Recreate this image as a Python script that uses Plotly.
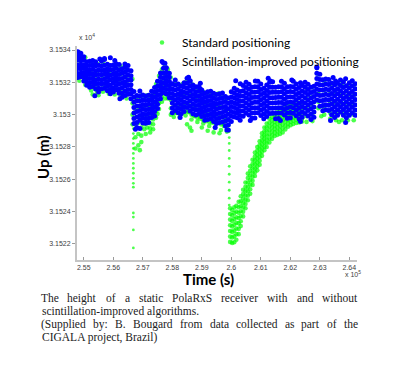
import plotly.graph_objects as go

# ---------------- data ----------------
# time in seconds, height in metres
scint_time_s = [254800, 254900, 255000, 255100, 255200, 255300, 255400, 255500, 255600, 255700,
                255800, 255900, 256000, 256100, 256200, 256300, 256400, 256500, 256600, 256700,
                256800, 256900, 257000, 257100, 257200, 257300, 257400, 257500, 257600, 257700,
                257800, 257900, 258000, 258100, 258200, 258300, 258400, 258500, 258600, 258700,
                258800, 258900, 259000, 259100, 259200, 259300, 259400, 259500, 259600, 259700,
                259800, 259900, 260000, 260100, 260200, 260300, 260400, 260500, 260600, 260700,
                260800, 260900, 261000, 261100, 261200, 261300, 261400, 261500, 261600, 261700,
                261800, 261900, 262000, 262100, 262200, 262300, 262400, 262500, 262600, 262700,
                262800, 262900, 263000, 263100, 263200, 263300, 263400, 263500, 263600, 263700,
                263800, 263900, 264000, 264100, 264200]
scint_up_m = [
    [31533.90, 31533.62, 31533.38, 31533.08, 31532.85, 31532.55, 31532.30],
    [31533.80, 31533.57, 31533.34, 31533.06, 31532.84, 31532.57, 31532.34],
    [31533.58, 31533.36, 31533.08, 31532.86, 31532.59, 31532.35, 31532.08],
    [31533.28, 31533.03, 31532.77, 31532.52, 31532.28, 31532.02, 31531.82],
    [31533.30, 31533.05, 31532.76, 31532.52, 31532.24, 31531.98, 31531.70],
    [31533.35, 31533.07, 31532.81, 31532.53, 31532.26, 31532.00, 31531.74],
    [31533.28, 31533.02, 31532.72, 31532.46, 31532.15, 31531.88, 31531.58],
    [31533.06, 31532.78, 31532.48, 31532.21, 31531.93, 31531.64, 31531.40],
    [31533.32, 31533.01, 31532.74, 31532.47, 31532.16, 31531.90, 31531.60],
    [31533.42, 31533.06, 31532.77, 31532.50, 31532.20, 31531.93, 31531.64],
    [31533.12, 31532.84, 31532.57, 31532.31, 31532.03, 31531.76, 31531.48],
    [31533.04, 31532.76, 31532.44, 31532.16, 31531.84, 31531.56, 31531.30],
    [31533.08, 31532.80, 31532.53, 31532.24, 31531.97, 31531.66, 31531.40],
    [31533.15, 31532.88, 31532.60, 31532.34, 31532.06, 31531.80, 31531.53],
    [31533.10, 31532.78, 31532.48, 31532.19, 31531.91, 31531.60, 31531.32],
    [31532.84, 31532.56, 31532.24, 31531.95, 31531.66, 31531.34, 31531.08],
    [31532.92, 31532.62, 31532.35, 31532.04, 31531.77, 31531.46, 31531.18],
    [31533.05, 31532.75, 31532.45, 31532.14, 31531.85, 31531.55, 31531.26],
    [31532.72, 31532.41, 31532.14, 31531.85, 31531.55, 31531.29, 31530.98],
    [31531.44, 31531.10, 31530.76, 31530.44, 31530.10, 31529.76, 31529.45],
    [31531.18, 31530.86, 31530.53, 31530.19, 31529.86, 31529.52, 31529.20],
    [31531.46, 31531.15, 31530.86, 31530.55, 31530.25, 31529.95, 31529.65],
    [31531.22, 31530.92, 31530.63, 31530.35, 31530.06, 31529.78, 31529.48],
    [31531.15, 31530.88, 31530.58, 31530.31, 31530.01, 31529.74, 31529.46],
    [31531.20, 31530.90, 31530.64, 31530.33, 31530.07, 31529.77, 31529.52],
    [31531.45, 31531.17, 31530.90, 31530.63, 31530.36, 31530.10, 31529.83],
    [31531.68, 31531.39, 31531.08, 31530.79, 31530.49, 31530.20, 31529.92],
    [31532.07, 31531.78, 31531.50, 31531.22, 31530.93, 31530.64, 31530.38],
    [31532.58, 31532.32, 31532.04, 31531.78, 31531.52, 31531.25, 31530.98],
    [31533.20, 31532.88, 31532.57, 31532.27, 31531.97, 31531.66, 31531.37],
    [31532.90, 31532.62, 31532.36, 31532.09, 31531.83, 31531.56, 31531.28],
    [31532.56, 31532.31, 31532.05, 31531.81, 31531.56, 31531.31, 31531.05],
    [31531.92, 31531.60, 31531.31, 31531.01, 31530.72, 31530.41, 31530.12],
    [31532.14, 31531.83, 31531.52, 31531.20, 31530.89, 31530.57, 31530.26],
    [31531.90, 31531.60, 31531.29, 31531.00, 31530.70, 31530.39, 31530.12],
    [31531.77, 31531.48, 31531.20, 31530.92, 31530.63, 31530.35, 31530.05],
    [31531.98, 31531.69, 31531.38, 31531.09, 31530.79, 31530.49, 31530.20],
    [31532.25, 31531.94, 31531.63, 31531.34, 31531.04, 31530.74, 31530.44],
    [31532.10, 31531.78, 31531.46, 31531.15, 31530.84, 31530.52, 31530.22],
    [31531.84, 31531.55, 31531.25, 31530.95, 31530.65, 31530.35, 31530.05],
    [31531.72, 31531.42, 31531.14, 31530.86, 31530.57, 31530.28, 31529.98],
    [31531.74, 31531.45, 31531.16, 31530.88, 31530.60, 31530.32, 31530.04],
    [31531.52, 31531.24, 31530.96, 31530.70, 31530.43, 31530.15, 31529.88],
    [31531.34, 31531.06, 31530.77, 31530.49, 31530.21, 31529.93, 31529.65],
    [31531.42, 31531.12, 31530.84, 31530.56, 31530.27, 31529.98, 31529.70],
    [31531.45, 31531.16, 31530.88, 31530.60, 31530.32, 31530.03, 31529.75],
    [31531.32, 31531.03, 31530.74, 31530.46, 31530.17, 31529.89, 31529.58],
    [31531.24, 31530.93, 31530.64, 31530.34, 31530.04, 31529.75, 31529.45],
    [31531.30, 31531.00, 31530.70, 31530.41, 31530.10, 31529.80, 31529.52],
    [31531.34, 31531.04, 31530.75, 31530.44, 31530.14, 31529.85, 31529.55],
    [31531.12, 31530.81, 31530.51, 31530.21, 31529.91, 31529.60, 31529.30],
    [31531.03, 31530.70, 31530.37, 31530.03, 31529.70, 31529.37, 31529.05],
    [31531.42, 31531.10, 31530.80, 31530.50, 31530.19, 31529.90, 31529.58],
    [31531.64, 31531.34, 31531.04, 31530.74, 31530.44, 31530.14, 31529.85],
    [31531.52, 31531.22, 31530.94, 31530.66, 31530.37, 31530.08, 31529.80],
    [31531.43, 31531.14, 31530.83, 31530.54, 31530.24, 31529.94, 31529.65],
    [31531.80, 31531.48, 31531.16, 31530.85, 31530.53, 31530.22, 31529.90],
    [31532.00, 31531.68, 31531.36, 31531.04, 31530.72, 31530.40, 31530.08],
    [31531.88, 31531.57, 31531.25, 31530.94, 31530.62, 31530.30, 31529.98],
    [31531.70, 31531.38, 31531.06, 31530.74, 31530.42, 31530.10, 31529.78],
    [31531.72, 31531.39, 31531.08, 31530.76, 31530.43, 31530.11, 31529.79],
    [31532.06, 31531.73, 31531.41, 31531.08, 31530.76, 31530.43, 31530.11],
    [31531.89, 31531.56, 31531.24, 31530.92, 31530.60, 31530.27, 31529.95],
    [31531.64, 31531.32, 31531.01, 31530.69, 31530.38, 31530.06, 31529.75],
    [31531.83, 31531.50, 31531.18, 31530.85, 31530.53, 31530.20, 31529.88],
    [31532.01, 31531.69, 31531.37, 31531.04, 31530.72, 31530.40, 31530.07],
    [31532.04, 31531.70, 31531.38, 31531.05, 31530.72, 31530.40, 31530.08],
    [31531.70, 31531.38, 31531.06, 31530.73, 31530.41, 31530.08, 31529.75],
    [31531.72, 31531.39, 31531.07, 31530.75, 31530.43, 31530.10, 31529.76],
    [31532.06, 31531.73, 31531.41, 31531.08, 31530.75, 31530.43, 31530.10],
    [31531.94, 31531.61, 31531.29, 31530.96, 31530.64, 31530.32, 31529.98],
    [31531.72, 31531.40, 31531.07, 31530.75, 31530.42, 31530.10, 31529.77],
    [31531.75, 31531.43, 31531.11, 31530.79, 31530.47, 31530.14, 31529.81],
    [31532.06, 31531.73, 31531.40, 31531.08, 31530.75, 31530.42, 31530.09],
    [31531.89, 31531.57, 31531.24, 31530.92, 31530.59, 31530.27, 31529.93],
    [31531.68, 31531.36, 31531.04, 31530.71, 31530.39, 31530.06, 31529.73],
    [31531.80, 31531.47, 31531.15, 31530.82, 31530.50, 31530.17, 31529.84],
    [31532.01, 31531.69, 31531.37, 31531.04, 31530.72, 31530.39, 31530.07],
    [31531.88, 31531.56, 31531.24, 31530.91, 31530.59, 31530.26, 31529.92],
    [31531.70, 31531.37, 31531.03, 31530.70, 31530.37, 31530.03, 31529.70],
    [31531.76, 31531.44, 31531.12, 31530.80, 31530.48, 31530.16, 31529.84],
    [31532.90, 31532.56, 31532.23, 31531.90, 31531.57, 31531.24, 31530.90],
    [31532.50, 31532.18, 31531.85, 31531.52, 31531.18, 31530.86, 31530.52],
    [31532.16, 31531.84, 31531.52, 31531.20, 31530.88, 31530.56, 31530.24],
    [31532.20, 31531.89, 31531.57, 31531.26, 31530.94, 31530.62, 31530.30],
    [31532.18, 31531.86, 31531.54, 31531.22, 31530.90, 31530.58, 31530.26],
    [31531.96, 31531.64, 31531.31, 31530.98, 31530.66, 31530.33, 31530.00],
    [31531.83, 31531.50, 31531.17, 31530.83, 31530.49, 31530.16, 31529.82],
    [31531.94, 31531.61, 31531.29, 31530.96, 31530.63, 31530.30, 31529.96],
    [31532.15, 31531.81, 31531.48, 31531.15, 31530.82, 31530.49, 31530.16],
    [31532.02, 31531.68, 31531.34, 31531.00, 31530.65, 31530.32, 31529.96],
    [31531.79, 31531.46, 31531.13, 31530.80, 31530.46, 31530.13, 31529.80],
    [31531.98, 31531.65, 31531.31, 31530.97, 31530.64, 31530.30, 31529.96],
    [31532.10, 31531.77, 31531.44, 31531.11, 31530.78, 31530.45, 31530.12],
    [31531.92, 31531.60, 31531.27, 31530.94, 31530.61, 31530.29, 31529.96],
]
# stray fixes just outside the main band
scint_extra_time_s = [255700, 255900, 256050, 257750, 258550, 262900, 259850, 256750,
                      260150, 261250, 262050, 263450, 258950,
                      255544, 256394, 258604, 258944, 260304, 260814, 261324, 262344, 263534,
                      263874, 255374, 256224, 256904, 258264, 259454, 260644, 261664, 262344,
                      263364, 263874]
scint_extra_up_m = [31533.48, 31533.52, 31533.35, 31533.18, 31532.32, 31532.95, 31529.05,
                    31529.10, 31532.10, 31532.25, 31532.15, 31532.30, 31531.95,
                    31533.45, 31533.14, 31532.09, 31531.60, 31531.91, 31532.09, 31532.09,
                    31531.97, 31532.09, 31532.22, 31531.17, 31530.98, 31529.14, 31529.82,
                    31529.20, 31529.63, 31529.63, 31529.57, 31529.63, 31529.51]

std_time_s = [254850, 255050, 255250, 255450, 255650, 255850, 256050, 256250, 256450, 256650,
              256750, 256850, 256950, 257050, 257150, 257250, 257350, 257450, 257550, 257650,
              257750, 257850, 257950, 258050, 258150, 258250, 258350, 258450, 258550, 258650,
              258750, 258850, 258950, 259050, 259150, 259250, 259350, 259450, 259550, 259650,
              259750, 259850,
              259960, 260030, 260100, 260170, 260250, 260320, 260400, 260480, 260560, 260640,
              260720, 260800, 260880, 260960, 261040, 261120, 261200, 261290, 261380, 261470,
              261560, 261650, 261740, 261830, 261920, 262010, 262100, 262200, 262300, 262400,
              262550, 262750, 262950, 263150, 263350, 263550, 263750, 263950, 264150]
std_up_m = [
    [31533.85, 31533.35, 31532.90, 31532.45, 31532.10],
    [31533.55, 31533.05, 31532.60, 31532.20, 31531.85],
    [31533.25, 31532.75, 31532.30, 31531.90, 31531.50],
    [31533.15, 31532.70, 31532.20, 31531.80, 31531.40],
    [31533.25, 31532.75, 31532.25, 31531.85, 31531.42],
    [31533.05, 31532.60, 31532.15, 31531.70, 31531.30],
    [31533.00, 31532.55, 31532.05, 31531.65, 31531.25],
    [31533.00, 31532.50, 31532.00, 31531.55, 31531.12],
    [31532.85, 31532.35, 31531.90, 31531.45, 31531.00],
    [31532.20, 31531.40, 31530.70, 31530.00, 31529.40],
    [31531.00, 31530.20, 31529.40, 31528.60, 31527.90],
    [31531.10, 31530.30, 31529.50, 31528.80, 31528.10],
    [31531.20, 31530.50, 31529.80, 31529.20, 31528.70],
    [31531.10, 31530.50, 31529.90, 31529.40, 31529.10],
    [31531.20, 31530.60, 31530.00, 31529.50, 31529.20],
    [31531.10, 31530.50, 31529.90, 31529.45, 31529.15],
    [31531.30, 31530.70, 31530.10, 31529.70, 31529.40],
    [31531.90, 31531.30, 31530.70, 31530.20, 31529.80],
    [31532.40, 31531.80, 31531.20, 31530.70, 31530.35],
    [31532.80, 31532.20, 31531.60, 31531.10, 31530.80],
    [31533.00, 31532.40, 31531.80, 31531.30, 31531.00],
    [31532.80, 31532.20, 31531.60, 31531.20, 31531.00],
    [31532.30, 31531.60, 31530.90, 31530.40, 31530.00],
    [31531.90, 31531.20, 31530.60, 31530.10, 31529.85],
    [31531.90, 31531.20, 31530.60, 31530.10, 31530.15],
    [31531.80, 31531.10, 31530.50, 31530.05, 31529.85],
    [31531.90, 31531.20, 31530.60, 31530.10, 31530.25],
    [31532.00, 31531.30, 31530.70, 31530.20, 31529.95],
    [31532.00, 31531.30, 31530.60, 31530.15, 31530.20],
    [31531.90, 31531.20, 31530.50, 31530.00, 31529.70],
    [31531.70, 31531.00, 31530.40, 31529.90, 31529.95],
    [31531.50, 31530.90, 31530.30, 31529.80, 31529.55],
    [31531.40, 31530.80, 31530.20, 31529.75, 31529.85],
    [31531.40, 31530.70, 31530.10, 31529.65, 31529.45],
    [31531.30, 31530.70, 31530.10, 31529.60, 31529.75],
    [31531.30, 31530.60, 31530.00, 31529.55, 31529.30],
    [31531.20, 31530.50, 31529.90, 31529.50, 31529.60],
    [31531.20, 31530.60, 31530.00, 31529.50, 31529.20],
    [31531.30, 31530.60, 31530.00, 31529.50, 31529.55],
    [31531.10, 31530.50, 31529.90, 31529.40, 31529.05],
    [31531.00, 31530.40, 31529.80, 31529.30, 31529.40],
    [31531.00, 31530.30, 31529.70, 31529.20, 31528.95],
    [31524.20, 31523.85, 31523.50, 31523.15, 31522.80, 31522.45, 31522.12],
    [31524.10, 31523.76, 31523.42, 31523.08, 31522.74, 31522.40, 31522.06],
    [31524.26, 31523.90, 31523.54, 31523.18, 31522.82, 31522.46, 31522.10],
    [31524.35, 31524.00, 31523.65, 31523.30, 31522.95, 31522.60, 31522.25],
    [31524.60, 31524.27, 31523.93, 31523.60, 31523.27, 31522.93, 31522.60],
    [31524.95, 31524.64, 31524.33, 31524.02, 31523.71, 31523.40, 31523.10],
    [31525.35, 31525.08, 31524.80, 31524.52, 31524.25, 31523.98, 31523.70],
    [31525.80, 31525.53, 31525.27, 31525.00, 31524.73, 31524.47, 31524.20],
    [31526.35, 31526.08, 31525.80, 31525.52, 31525.25, 31524.98, 31524.70],
    [31526.80, 31526.52, 31526.23, 31525.95, 31525.67, 31525.38, 31525.10],
    [31527.20, 31526.94, 31526.68, 31526.42, 31526.16, 31525.90, 31525.65],
    [31527.65, 31527.41, 31527.17, 31526.93, 31526.68, 31526.44, 31526.20],
    [31528.00, 31527.76, 31527.52, 31527.28, 31527.03, 31526.79, 31526.55],
    [31528.35, 31528.11, 31527.87, 31527.62, 31527.38, 31527.14, 31526.90],
    [31528.85, 31528.62, 31528.38, 31528.15, 31527.92, 31527.68, 31527.45],
    [31529.20, 31528.97, 31528.73, 31528.50, 31528.27, 31528.03, 31527.80],
    [31529.45, 31529.21, 31528.97, 31528.72, 31528.48, 31528.24, 31528.00],
    [31529.75, 31529.50, 31529.26, 31529.02, 31528.77, 31528.52, 31528.28],
    [31529.88, 31529.65, 31529.42, 31529.19, 31528.96, 31528.73, 31528.50],
    [31530.00, 31529.78, 31529.56, 31529.34, 31529.12, 31528.90, 31528.68],
    [31530.15, 31529.92, 31529.68, 31529.45, 31529.22, 31528.98, 31528.75],
    [31530.26, 31530.02, 31529.78, 31529.53, 31529.29, 31529.04, 31528.80],
    [31530.37, 31530.13, 31529.88, 31529.64, 31529.39, 31529.15, 31528.90],
    [31530.46, 31530.23, 31530.00, 31529.77, 31529.54, 31529.31, 31529.08],
    [31530.53, 31530.32, 31530.10, 31529.89, 31529.68, 31529.46, 31529.25],
    [31530.58, 31530.38, 31530.17, 31529.97, 31529.76, 31529.56, 31529.35],
    [31530.65, 31530.45, 31530.24, 31530.04, 31529.83, 31529.63, 31529.42],
    [31530.70, 31530.50, 31530.29, 31530.09, 31529.89, 31529.68, 31529.48],
    [31530.74, 31530.54, 31530.33, 31530.13, 31529.93, 31529.72, 31529.52],
    [31530.80, 31530.60, 31530.39, 31530.19, 31529.99, 31529.78, 31529.58],
    [31531.60, 31531.00, 31530.40, 31529.90, 31529.55],
    [31531.70, 31531.10, 31530.50, 31529.95, 31529.60],
    [31532.50, 31531.90, 31531.30, 31530.80, 31530.40],
    [31532.10, 31531.50, 31530.90, 31530.40, 31530.00],
    [31531.90, 31531.30, 31530.70, 31530.10, 31529.75],
    [31531.90, 31531.30, 31530.70, 31530.10, 31529.65],
    [31531.90, 31531.30, 31530.70, 31530.10, 31529.65],
    [31531.80, 31531.20, 31530.60, 31530.00, 31529.65],
    [31531.80, 31531.20, 31530.60, 31530.00, 31529.65],
]
std_extra_time_s = [256900, 256950, 257100, 257250, 257350, 257500, 258500, 258600, 258650,
                    259000, 259200, 259400, 255300, 255500, 259600, 263050, 263650]
std_extra_up_m = [31527.80, 31528.30, 31528.80, 31528.90, 31529.10, 31530.05, 31529.40,
                  31529.20, 31529.00, 31529.20, 31529.00, 31528.90, 31531.25, 31531.20,
                  31528.85, 31529.90, 31529.55]
# isolated outages: vertical trails of standard-positioning fixes
std_spike_time_s = [256680] * 18 + [259930] * 12
std_spike_up_m = [31529.45, 31529.14, 31528.83, 31528.52, 31528.22, 31527.91, 31527.60, 31527.29,
                  31526.98, 31526.68, 31526.37, 31526.06, 31525.75, 31525.51, 31523.91, 31523.66,
                  31522.86, 31521.75,
                  31529.32, 31528.95, 31528.58, 31528.22, 31527.78, 31527.29, 31526.80, 31526.31,
                  31525.82, 31525.32, 31524.83, 31524.40]

y_tick_vals = [31522, 31524, 31526, 31528, 31530, 31532, 31534]
y_tick_text = ["3.1522", "3.1524", "3.1526", "3.1528", "3.153", "3.1532", "3.1534"]
x_tick_vals = [255000, 256000, 257000, 258000, 259000, 260000, 261000, 262000, 263000, 264000]
x_tick_text = ["2.55", "2.56", "2.57", "2.58", "2.59", "2.6", "2.61", "2.62", "2.63", "2.64"]

caption_lines = [
    "The height of a static PolaRxS receiver with and without",
    "scintillation-improved algorithms.",
    "(Supplied by: B. Bougard from data collected as part of the",
    "CIGALA project, Brazil)",
]
caption_justified = [True, False, True, False]


def flatten(times, cols):
    xs, ys = [], []
    for t, col in zip(times, cols):
        for v in col:
            xs.append(t)
            ys.append(v)
    return xs, ys


std_x, std_y = flatten(std_time_s, std_up_m)
std_x += std_extra_time_s
std_y += std_extra_up_m
n_std_band = len(std_x)
std_x += std_spike_time_s
std_y += std_spike_up_m
sc_x, sc_y = flatten(scint_time_s, scint_up_m)
sc_x += scint_extra_time_s
sc_y += scint_extra_up_m

# marker sizes (style): band dots vs isolated outage dots
std_sizes = [4.6] * n_std_band + [2.8] * len(std_spike_time_s)

# ---------------- layout geometry ----------------
# the page adds an 8 px body margin, so the figure is 8 px smaller and
# its pixel margins are given relative to that offset
OFF = 8
W, H = 400 - OFF, 384 - OFF
PL, PR, PT, PB = 77, 357, 46, 260          # plot area in page pixels


def px(x):
    return (x - PL) / (PR - PL)


def py(y):
    return (PB - y) / (PB - PT)


fig = go.Figure()
fig.add_trace(go.Scatter(
    x=std_x, y=std_y, mode="markers", name="Standard positioning",
    marker=dict(color="#00ff00", size=std_sizes, symbol="circle", line=dict(width=0)),
))
fig.add_trace(go.Scatter(
    x=sc_x, y=sc_y, mode="markers", name="Scintillation-improved positioning",
    marker=dict(color="#0000ff", size=5, symbol="circle", line=dict(width=0)),
))

axis_common = dict(showgrid=False, zeroline=False, showline=True, linecolor="#c4c4c4",
                   linewidth=2, ticklen=3, tickcolor="#9a9a9a",
                   tickfont=dict(family="Liberation Sans, Arial", size=7, color="#404040"))
fig.update_xaxes(range=[254770, 264260], tickvals=x_tick_vals, ticktext=x_tick_text,
                 ticks="inside", **axis_common)
fig.update_yaxes(range=[31521.0, 31534.25], tickvals=y_tick_vals, ticktext=y_tick_text,
                 ticks="outside", **axis_common)

small_font = dict(family="Liberation Sans, Arial", size=7, color="#404040")
title_font = dict(family="Lato, Open Sans", size=15, color="#000000")
annotations = [
    dict(text="x 10<sup>4</sup>", x=px(77), y=py(37), xanchor="left", yanchor="middle",
         font=small_font),
    dict(text="x 10<sup>5</sup>", x=px(343), y=py(274), xanchor="left", yanchor="middle",
         font=small_font),
    dict(text="<b>Up (m)</b>", x=px(43), y=py(157), textangle=-90, xanchor="center",
         yanchor="middle", font=title_font),
    dict(text="<b>Time (s)</b>", x=px(208), y=py(279), xanchor="center", yanchor="middle",
         font=title_font),
]

# caption (serif, justified lines placed word by word)
TIMES = {'a': .444, 'b': .5, 'c': .444, 'd': .5, 'e': .444, 'f': .333, 'g': .5, 'h': .5,
         'i': .278, 'j': .278, 'k': .5, 'l': .278, 'm': .778, 'n': .5, 'o': .5, 'p': .5,
         'q': .5, 'r': .333, 's': .389, 't': .278, 'u': .5, 'v': .5, 'w': .722, 'x': .5,
         'y': .5, 'z': .444, 'A': .722, 'B': .667, 'C': .667, 'G': .722, 'I': .333,
         'L': .611, 'P': .556, 'R': .667, 'S': .556, 'T': .611, '(': .333, ')': .333,
         ':': .278, '.': .25, ',': .25, '-': .333, ' ': .25}
CAP_SIZE = 11.5
CAP_LEFT, CAP_RIGHT = 41, 358
cap_font = dict(family="Liberation Serif, Times New Roman", size=CAP_SIZE, color="#222222")


def tw(s):
    return sum(TIMES.get(c, .5) for c in s) * CAP_SIZE


for i, (line, just) in enumerate(zip(caption_lines, caption_justified)):
    ycen = 298 + 13 * i
    if just:
        words = line.split(" ")
        widths = [tw(w) for w in words]
        gap = (CAP_RIGHT - CAP_LEFT - sum(widths)) / (len(words) - 1)
        xcur = CAP_LEFT
        for w, wd in zip(words, widths):
            annotations.append(dict(text=w, x=px(xcur + wd / 2), y=py(ycen), xanchor="center",
                                    yanchor="middle", font=cap_font, borderpad=0))
            xcur += wd + gap
    else:
        annotations.append(dict(text=line, x=px(CAP_LEFT), y=py(ycen), xanchor="left",
                                yanchor="middle", font=cap_font, borderpad=0))

for a in annotations:
    a.update(xref="paper", yref="paper", showarrow=False)

fig.update_layout(
    width=W, height=H,
    margin=dict(l=PL - OFF, r=400 - PR, t=PT - OFF, b=384 - PB, autoexpand=False),
    paper_bgcolor="white", plot_bgcolor="white",
    showlegend=True,
    legend=dict(x=px(142), y=py(28), xanchor="left", yanchor="top",
                bgcolor="rgba(0,0,0,0)", borderwidth=0,
                font=dict(family="Lato, Open Sans", size=12, color="#000000"),
                itemsizing="trace", tracegroupgap=0),
    annotations=annotations,
)

fig.write_html("out.html")
